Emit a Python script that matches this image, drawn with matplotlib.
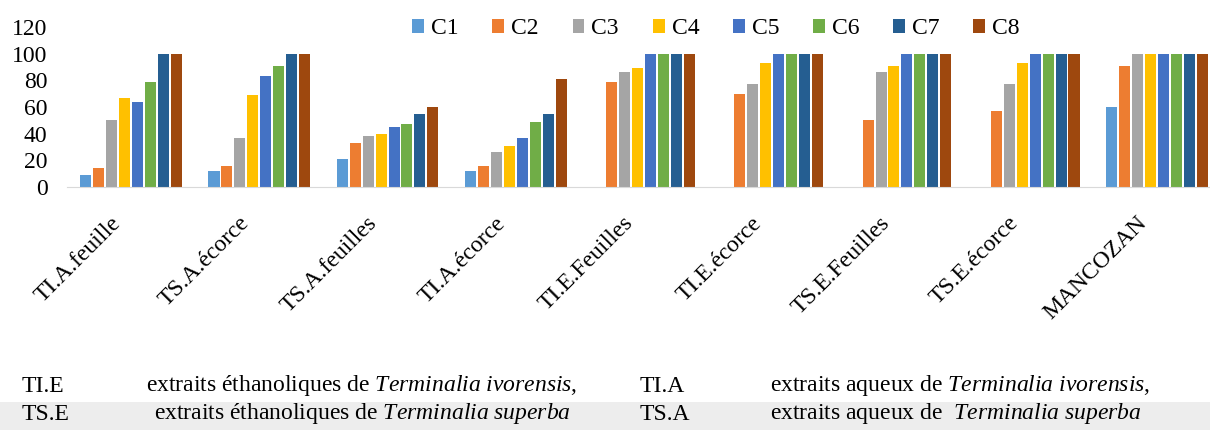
import numpy as np
import matplotlib
matplotlib.use('Agg')
import matplotlib.pyplot as plt
from matplotlib.patches import Rectangle
from matplotlib.transforms import ScaledTranslation

plt.rcParams['font.family'] = ['Liberation Serif', 'DejaVu Serif']
plt.rcParams['mathtext.fontset'] = 'custom'
plt.rcParams['mathtext.rm'] = 'Liberation Serif'
plt.rcParams['mathtext.it'] = 'Liberation Serif:italic'

categories = ['TI.A.feuille', 'TS.A.écorce', 'TS.A.feuilles', 'TI.A.écorce',
              'TI.E.Feuilles', 'TI.E.écorce', 'TS.E.Feuilles', 'TS.E.écorce', 'MANCOZAN']
series = ['C1', 'C2', 'C3', 'C4', 'C5', 'C6', 'C7', 'C8']
colors = ['#5B9BD5', '#ED7D31', '#A5A5A5', '#FFC000', '#4472C4', '#70AD47', '#255E91', '#9E480E']

# one list per concentration, values per category
c1 = [9, 12, 21, 12, 0, 0, 0, 0, 60]
c2 = [14, 16, 33, 16, 79, 70, 50, 57, 91]
c3 = [50, 37, 38, 26, 86, 77, 86, 77, 100]
c4 = [67, 69, 40, 31, 89, 93, 91, 93, 100]
c5 = [64, 83, 45, 37, 100, 100, 100, 100, 100]
c6 = [79, 91, 47, 49, 100, 100, 100, 100, 100]
c7 = [100, 100, 55, 55, 100, 100, 100, 100, 100]
c8 = [100, 100, 60, 81, 100, 100, 100, 100, 100]
values = [c1, c2, c3, c4, c5, c6, c7, c8]

fs = 17

fig = plt.figure(figsize=(12.1, 4.34), dpi=100)
ax = fig.add_axes([67 / 1210, 1 - 187 / 434, (1221 - 67) / 1210, (187 - 27) / 434])

x = np.arange(len(categories))
slot = 0.101
for j, (name, vals, col) in enumerate(zip(series, values, colors)):
    ax.bar(x + (j - 3.5) * slot, vals, width=0.086, color=col, label=name, zorder=2)

ax.set_xlim(-0.5, len(categories) - 0.5)
ax.set_ylim(0, 120)
ax.set_yticks(np.arange(0, 121, 20))
ax.tick_params(axis='y', length=0, labelsize=fs, pad=14)
ax.tick_params(axis='x', length=0, pad=4)
ax.set_xticks(x)
ax.set_xticklabels(categories, rotation=45, ha='right', va='top',
                   rotation_mode='anchor', fontsize=fs)
shift = ScaledTranslation(-21 / 100, -20 / 100, fig.dpi_scale_trans)
for lab in ax.get_xticklabels():
    lab.set_transform(lab.get_transform() + shift)
for s in ['top', 'right', 'left']:
    ax.spines[s].set_visible(False)
ax.spines['bottom'].set_color('#D9D9D9')
ax.patch.set_alpha(0)

fig.legend(loc='center', bbox_to_anchor=(716 / 1210, 1 - 29 / 434), ncol=8,
           frameon=False, fontsize=fs, handlelength=0.5, handleheight=0.5,
           handletextpad=0.3, columnspacing=1.43)

# abbreviation table below the chart
fig.patches.append(Rectangle((0, 1 - 430 / 434), 1, 28 / 434, transform=fig.transFigure,
                             facecolor='#EDEDED', edgecolor='none', zorder=0))
rows = [
    ('TI.E', r'extraits éthanoliques de $Terminalia\ ivorensis$,', 'TI.A',
     r'extraits aqueux de $Terminalia\ ivorensis$,', 386),
    ('TS.E', r'extraits éthanoliques de $Terminalia\ superba$', 'TS.A',
     r'extraits aqueux de  $Terminalia\ superba$', 414),
]
for ab1, txt1, ab2, txt2, yy in rows:
    yf = 1 - yy / 434
    fig.text(22 / 1210, yf, ab1, fontsize=fs, va='center')
    fig.text(362 / 1210, yf, txt1, fontsize=fs, va='center', ha='center')
    fig.text(640 / 1210, yf, ab2, fontsize=fs, va='center')
    fig.text(770 / 1210, yf, txt2, fontsize=fs, va='center')

fig.savefig('out.png', dpi=100)
